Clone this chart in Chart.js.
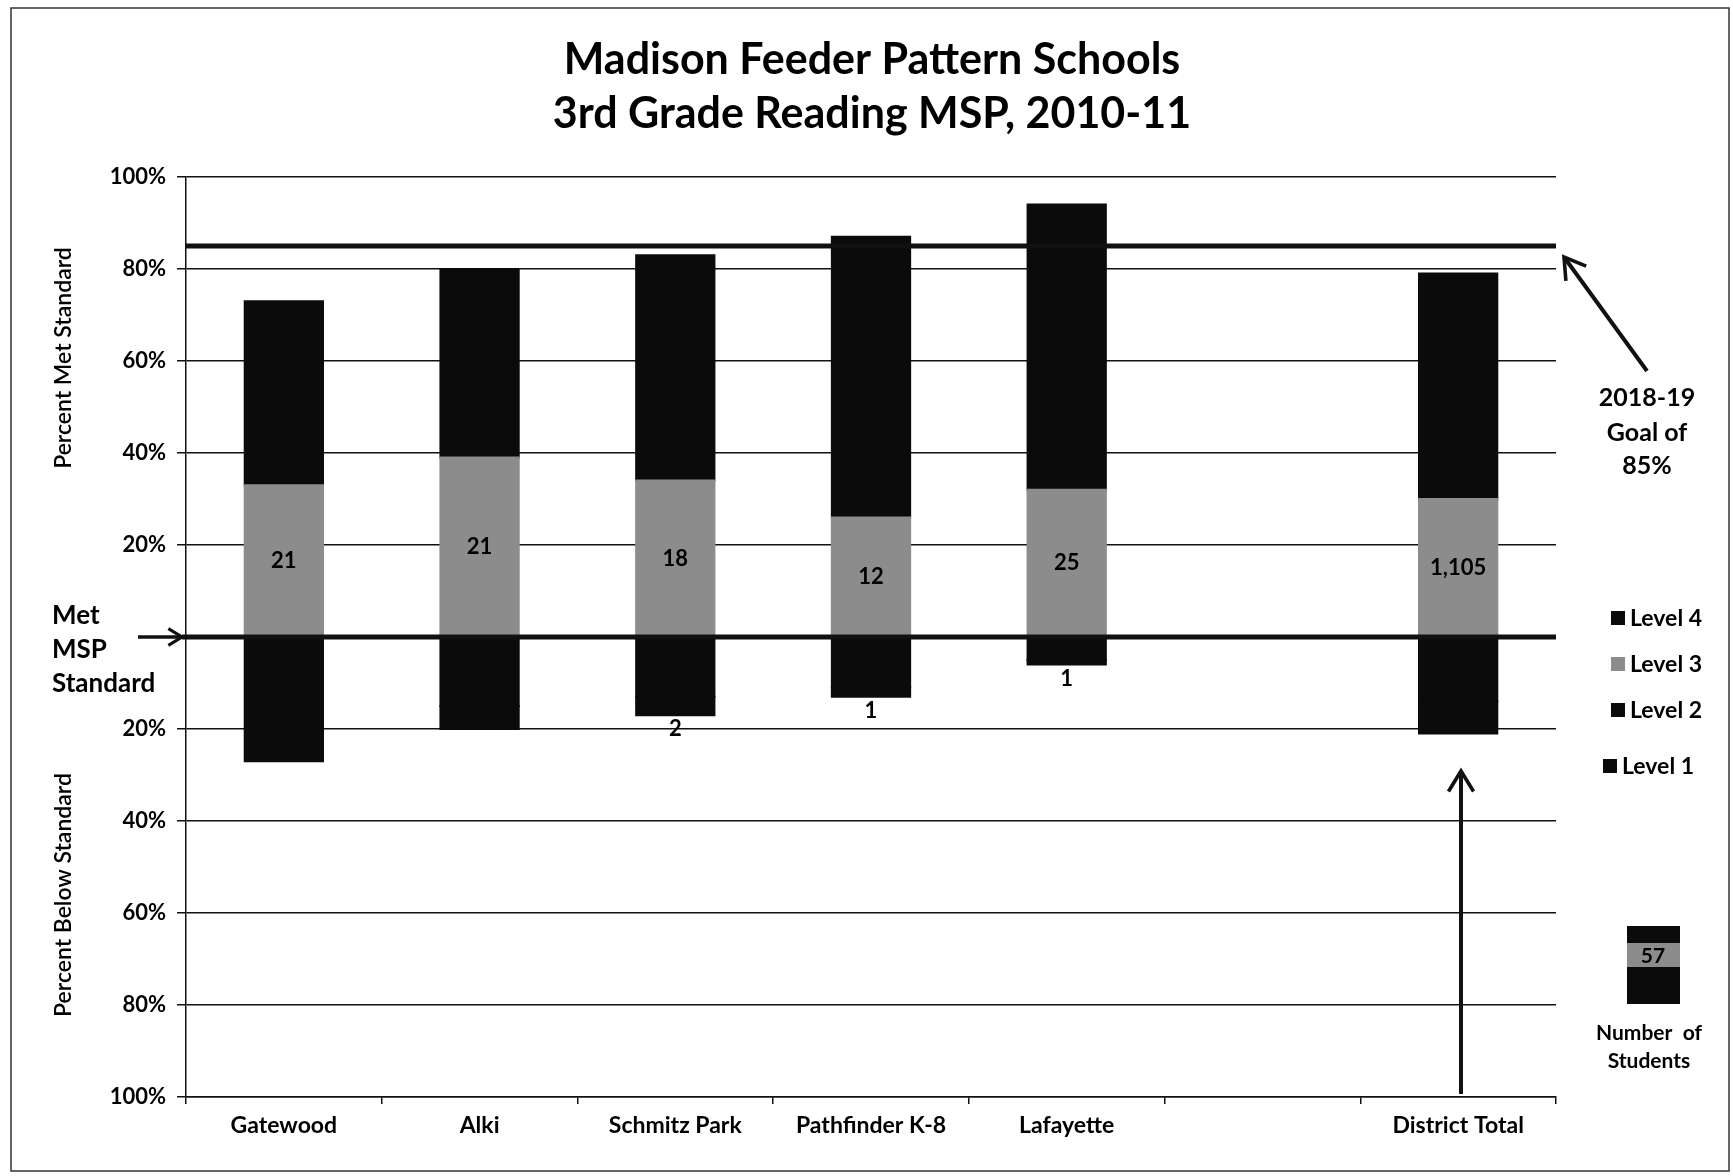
<!DOCTYPE html>
<html><head><meta charset="utf-8">
<script src="https://cdn.jsdelivr.net/npm/chart.js@4"></script>
<style>html,body{margin:0;padding:0;background:#fff;} #wrap{width:1733px;height:1176px;position:relative;}</style>
</head><body><div id="wrap"><canvas id="c" width="1733" height="1176"></canvas></div>
<script>
// ---- data ----
const categories = ['Gatewood', 'Alki', 'Schmitz Park', 'Pathfinder K-8', 'Lafayette', '', 'District Total'];
const level4 = [40, 41, 49, 61, 62, null, 49];
const level3 = [33, 39, 34, 26, 32, null, 30];
const level2 = [-20, -15, -13, -11, -5, null, -14];
const level1 = [-7, -5, -4, -2, -1, null, -7];
const studentCounts = ['21', '21', '18', '12', '25', '', '1,105'];
const level1Labels = ['', '', '2', '1', '1', '', ''];
const yTickValues = [-100, -80, -60, -40, -20, 0, 20, 40, 60, 80, 100];
const goalValue = 85;
const standardValue = 0;
const titleLines = ['Madison Feeder Pattern Schools', '3rd Grade Reading MSP, 2010-11'];
const legendSample = '57';

const FONT = 'Lato, "Open Sans", sans-serif';
const C4 = '#0b0b0b', C3 = '#8c8c8c', C2 = '#0b0b0b', C1 = '#0b0b0b';

function arrow(ctx, x1, y1, x2, y2, head, w) {
  ctx.save();
  ctx.strokeStyle = '#111'; ctx.lineWidth = w; ctx.lineCap = 'butt';
  ctx.beginPath(); ctx.moveTo(x1, y1); ctx.lineTo(x2, y2); ctx.stroke();
  const a = Math.atan2(y2 - y1, x2 - x1);
  ctx.lineWidth = w * 0.9; ctx.lineJoin = 'miter';
  ctx.beginPath();
  ctx.moveTo(x2 - head * Math.cos(a - 0.55), y2 - head * Math.sin(a - 0.55));
  ctx.lineTo(x2, y2);
  ctx.lineTo(x2 - head * Math.cos(a + 0.55), y2 - head * Math.sin(a + 0.55));
  ctx.stroke();
  ctx.restore();
}

const annotations = {
  id: 'annotations',
  afterDatasetsDraw(chart) {
    const ctx = chart.ctx, y = chart.scales.y, area = chart.chartArea;
    ctx.save();
    ctx.font = 'bold 22px ' + FONT; ctx.fillStyle = '#000';
    ctx.textAlign = 'center'; ctx.textBaseline = 'middle';
    const m3 = chart.getDatasetMeta(0);
    m3.data.forEach((el, i) => {
      if (!studentCounts[i]) return;
      ctx.fillText(studentCounts[i], el.x, (el.y + el.base) / 2);
    });
    const m1 = chart.getDatasetMeta(3);
    ctx.textBaseline = 'top';
    m1.data.forEach((el, i) => {
      if (!level1Labels[i]) return;
      ctx.fillText(level1Labels[i], el.x, Math.max(el.y, el.base) + 3);
    });
    ctx.strokeStyle = '#111'; ctx.lineWidth = 5;
    const yg = y.getPixelForValue(goalValue);
    ctx.beginPath(); ctx.moveTo(area.left, yg); ctx.lineTo(area.right, yg); ctx.stroke();
    const ys = y.getPixelForValue(standardValue);
    ctx.beginPath(); ctx.moveTo(area.left - 4, ys); ctx.lineTo(area.right, ys); ctx.stroke();
    ctx.restore();
  },
  afterDraw(chart) {
    const ctx = chart.ctx, y = chart.scales.y;
    ctx.save();
    ctx.fillStyle = '#000';
    ctx.font = 'bold 43px ' + FONT; ctx.textAlign = 'center'; ctx.textBaseline = 'middle';
    ctx.fillText(titleLines[0], 872, 60);
    ctx.fillText(titleLines[1], 872, 114);
    ctx.font = '600 23px ' + FONT;
    ctx.save(); ctx.translate(64, 358); ctx.rotate(-Math.PI / 2); ctx.fillText('Percent Met Standard', 0, 0); ctx.restore();
    ctx.save(); ctx.translate(64, 895); ctx.rotate(-Math.PI / 2); ctx.fillText('Percent Below Standard', 0, 0); ctx.restore();
    ctx.font = 'bold 26px ' + FONT; ctx.textAlign = 'left';
    ctx.fillText('Met', 52, 616); ctx.fillText('MSP', 52, 650); ctx.fillText('Standard', 52, 684);
    const ys = y.getPixelForValue(standardValue);
    arrow(ctx, 138, ys, 182, ys, 16, 3.5);
    ctx.font = 'bold 25px ' + FONT; ctx.textAlign = 'center';
    ctx.fillText('2018-19', 1647, 398); ctx.fillText('Goal of', 1647, 433); ctx.fillText(goalValue + '%', 1647, 466);
    arrow(ctx, 1647, 371, 1564, 257, 24, 4);
    arrow(ctx, 1461, 1094, 1461, 771, 24, 4);
    ctx.font = 'bold 23px ' + FONT; ctx.textAlign = 'left';
    const items = [
      { i: 1, x: 1611, y: 618 }, { i: 0, x: 1611, y: 664 }, { i: 2, x: 1611, y: 710 }, { i: 3, x: 1603, y: 766 }
    ];
    items.forEach(it => {
      const ds = chart.data.datasets[it.i];
      ctx.fillStyle = ds.backgroundColor;
      ctx.fillRect(it.x, it.y - 7, 14, 14);
      ctx.fillStyle = '#000';
      ctx.fillText(ds.label, it.x + 19, it.y + 1);
    });
    ctx.fillStyle = C4; ctx.fillRect(1627, 926, 53, 78);
    ctx.fillStyle = C3; ctx.fillRect(1627, 943, 53, 24);
    ctx.fillStyle = '#000'; ctx.font = 'bold 21px ' + FONT; ctx.textAlign = 'center';
    ctx.fillText(legendSample, 1653, 956);
    ctx.fillText('Number  of', 1649, 1033);
    ctx.fillText('Students', 1649, 1061);
    ctx.strokeStyle = '#333'; ctx.lineWidth = 1.5;
    ctx.strokeRect(11, 8, 1718, 1163);
    ctx.restore();
  }
};

new Chart(document.getElementById('c'), {
  type: 'bar',
  data: {
    labels: categories,
    datasets: [
      { label: 'Level 3', data: level3, backgroundColor: C3, stack: 's' },
      { label: 'Level 4', data: level4, backgroundColor: C4, stack: 's' },
      { label: 'Level 2', data: level2, backgroundColor: C2, stack: 's' },
      { label: 'Level 1', data: level1, backgroundColor: C1, stack: 's' }
    ]
  },
  options: {
    responsive: false,
    animation: false,
    devicePixelRatio: 1,
    layout: { padding: { top: 177, right: 177, left: 0, bottom: 0 } },
    datasets: { bar: { categoryPercentage: 1, barPercentage: 0.4, borderWidth: 0, inflateAmount: 1 } },
    plugins: { legend: { display: false }, tooltip: { enabled: false }, title: { display: false } },
    scales: {
      x: {
        stacked: true,
        offset: true,
        afterFit(s) { s.height = 79; },
        grid: { drawOnChartArea: false, drawTicks: true, tickLength: 7, color: '#111', lineWidth: 1.5, offset: true },
        border: { display: true, color: '#111', width: 1.5 },
        ticks: { color: '#000', font: { family: FONT, size: 23, weight: 'bold' }, padding: 8, maxRotation: 0, autoSkip: false }
      },
      y: {
        stacked: true,
        min: -100, max: 100,
        afterFit(s) { s.width = 186; },
        afterBuildTicks(s) { s.ticks = yTickValues.map(v => ({ value: v })); },
        grid: { color: '#111', lineWidth: 1.5, drawTicks: true, tickLength: 9 },
        border: { display: true, color: '#111', width: 1.5 },
        ticks: {
          color: '#000', padding: 11,
          font: { family: FONT, size: 22, weight: 'bold' },
          callback: v => v === 0 ? '' : Math.abs(v) + '%'
        }
      }
    }
  },
  plugins: [annotations]
});
</script>
</body></html>
